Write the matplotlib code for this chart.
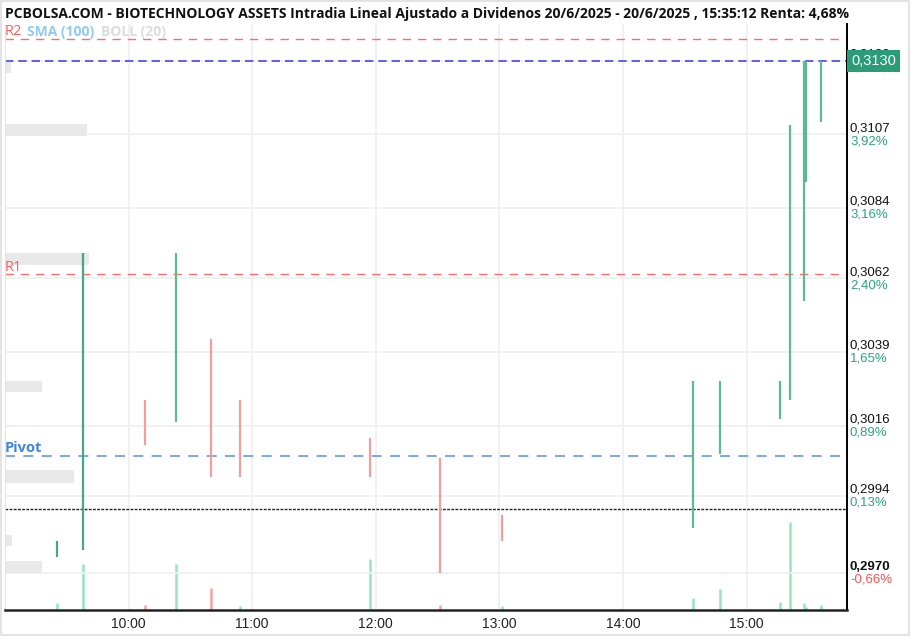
import matplotlib
matplotlib.use("Agg")
import matplotlib.pyplot as plt
from matplotlib.patches import Rectangle
import numpy as np

# candle data (high / low range per traded minute)
times = ["9:25", "9:38", "10:08", "10:23", "10:40", "10:54", "11:57", "12:31",
         "13:01", "14:34", "14:47", "15:16", "15:21", "15:28", "15:29", "15:36"]
highs = [0.2980, 0.3070, 0.3024, 0.3070, 0.3043, 0.3024, 0.3012, 0.3006,
         0.2988, 0.3030, 0.3030, 0.3030, 0.3110, 0.3130, 0.3130, 0.3130]
lows = [0.2975, 0.2977, 0.3010, 0.3017, 0.3000, 0.3000, 0.3000, 0.2970,
        0.2980, 0.2984, 0.3007, 0.3018, 0.3024, 0.3055, 0.3092, 0.3111]
candle_dir = ["up", "up", "down", "up", "down", "down", "down", "down",
              "down", "up", "up", "up", "up", "up", "up", "up"]
volumes = [7000, 46000, 5000, 46000, 22000, 4500, 51000, 5000,
           4000, 12500, 21000, 8500, 88000, 7500, 3000, 5000]
vol_dir = ["up", "up", "down", "up", "down", "up", "up", "down",
           "up", "up", "up", "up", "up", "up", "up", "up"]

# reference levels
last_price = 0.3130
prev_close = 0.2990
r2 = 0.31368
r1 = 0.30633
pivot = 0.30066

# right axis labels
tick_prices = [0.2970, 0.2994, 0.3016, 0.3039, 0.3062, 0.3084, 0.3107, 0.3130]
tick_labels = ["0,2970", "0,2994", "0,3016", "0,3039", "0,3062", "0,3084", "0,3107", "0,3130"]
tick_pcts = ["-0,66%", "0,13%", "0,89%", "1,65%", "2,40%", "3,16%", "3,92%", "4,68%"]

hour_labels = ["10:00", "11:00", "12:00", "13:00", "14:00", "15:00"]

title = ("PCBOLSA.COM - BIOTECHNOLOGY ASSETS Intradia Lineal Ajustado a Dividenos "
         "20/6/2025 - 20/6/2025 , 15:35:12 Renta: 4,68%")


def to_min(t):
    h, m = t.split(":")
    return (int(h) - 9) * 60 + int(m)


W, H = 914, 638
fig = plt.figure(figsize=(W / 100, H / 100), dpi=100)
fig.patch.set_facecolor("white")

ax_l, ax_r, ax_t, ax_b = 5, 847, 24, 610
ax = fig.add_axes([ax_l / W, 1 - ax_b / H, (ax_r - ax_l) / W, (ax_b - ax_t) / H])
vax = ax.twinx()
ax.set_zorder(vax.get_zorder() + 1)
ax.patch.set_visible(False)

x = np.array([to_min(t) for t in times])
green, red = "#5db993", "#f59c9c"
vgreen, vred = "#95e6bd", "#f7a3a3"

# volume bars on the hidden twin axis
vcols = [vgreen if d == "up" else vred for d in vol_dir]
vax.vlines(x, 0, volumes, colors=vcols, linewidth=1.8)
vax.set_ylim(0, max(volumes) * 586 / 88)
vax.set_yticks([])
for s in vax.spines.values():
    s.set_visible(False)

# price axis
ax.set_xlim(0, 408.7)
ylo = 0.2970 - (610 - 572.7) / 32000
yhi = 0.2970 + (572.7 - 24) / 32000
ax.set_ylim(ylo, yhi)

for p in tick_prices:
    ax.axhline(p, color="#f0f0f0", linewidth=1.3, zorder=0)
for t in hour_labels:
    ax.axvline(to_min(t), color="#f0f0f0", linewidth=1.3, zorder=0)

# left placeholder blocks
for (x0, x1, y0, y1) in [(5, 11, 62, 73), (5, 87, 124, 136), (5, 89, 253, 265),
                         (5, 42, 381, 392), (5, 74, 470, 483), (5, 12, 535, 546),
                         (5, 42, 561, 573)]:
    ax.add_patch(Rectangle(((x0 - ax_l) / (ax_r - ax_l), 1 - (y1 - ax_t) / (ax_b - ax_t)),
                           (x1 - x0) / (ax_r - ax_l), (y1 - y0) / (ax_b - ax_t),
                           transform=ax.transAxes, facecolor="#e9e9e9",
                           edgecolor="none", zorder=1))

ccols = [green if d == "up" else red for d in candle_dir]
ccols[0] = ccols[1] = "#45a883"
ax.vlines(x, lows, highs, colors=ccols, linewidth=1.6, zorder=3)

ax.axhline(r2, color="#ff6b6b", linewidth=1, dashes=(6, 5), zorder=2)
ax.axhline(r1, color="#ff6b6b", linewidth=1, dashes=(6, 5), zorder=2)
ax.axhline(pivot, color="#5e9de8", linewidth=1.2, dashes=(6, 5), zorder=2)
ax.axhline(last_price, color="#4545ff", linewidth=1.2, dashes=(5, 3), zorder=2)
ax.axhline(prev_close, color="#222222", linewidth=1, dashes=(2, 1), zorder=2)

tr = ax.get_yaxis_transform()


def level_label(txt, level, dx, color, size=10.5, weight="normal", dy=7):
    ax.annotate(txt, (0, level), xycoords=tr, xytext=(dx, dy), textcoords="offset pixels",
                va="center", ha="left", color=color, fontsize=size, fontweight=weight,
                family="Open Sans", zorder=4)


level_label("R2", r2, 0, "#ff5c5c")
level_label("SMA (100)", r2, 22, "#8fcaf5", size=10, weight="bold")
level_label("BOLL (20)", r2, 96, "#dcdcdc", size=10, weight="bold")
level_label("R1", r1, 0, "#ff5c5c")
level_label("Pivot", pivot, 0, "#3f86e0", weight="bold", dy=8)

# right side price / percent labels
for i, (p, lab, pct) in enumerate(zip(tick_prices, tick_labels, tick_pcts)):
    ax.annotate(lab, (1.0, p), xycoords=tr, xytext=(3, 6), textcoords="offset pixels",
                va="center", ha="left", fontsize=9.5, color="#111111",
                family="Liberation Sans", fontweight="bold" if i == 0 else "normal",
                annotation_clip=False)
    ax.annotate(pct, (1.0, p), xycoords=tr, xytext=(3, -7), textcoords="offset pixels",
                va="center", ha="left", fontsize=9.5,
                color="#ff4d4d" if pct.startswith("-") else "#2aa57d",
                family="Liberation Sans", annotation_clip=False)

# last price badge, drawn over the top tick label as in the source chart
ax.annotate("0,3130", (1.0, last_price), xycoords=tr, xytext=(4, 0),
            textcoords="offset pixels", va="center", ha="left", fontsize=10.5,
            color="white", family="Liberation Sans", annotation_clip=False,
            bbox=dict(boxstyle="square,pad=0.28", facecolor="#2a9d76", edgecolor="none"))

ax.set_yticks([])
ax.set_xticks([to_min(t) for t in hour_labels])
ax.set_xticklabels(hour_labels, fontsize=10, family="Liberation Sans", color="#222222")
ax.tick_params(axis="x", length=0, pad=5)

ax.spines["top"].set_visible(False)
ax.spines["left"].set_color("#e3e3e3")
ax.spines["right"].set_color("black")
ax.spines["right"].set_linewidth(1.4)
ax.spines["bottom"].set_color("#222222")
ax.spines["bottom"].set_linewidth(1.8)

# frame around the picture
fig.patches.append(Rectangle((1 / W, 3 / H), 908 / W, 634 / H, transform=fig.transFigure,
                             facecolor="none", edgecolor="#dedede", linewidth=1.2))

fig.text(5 / W, 1 - 14 / H, title, ha="left", va="center", fontsize=10,
         fontweight="bold", family="Open Sans", color="#111111")

fig.savefig("out.png", dpi=100)
